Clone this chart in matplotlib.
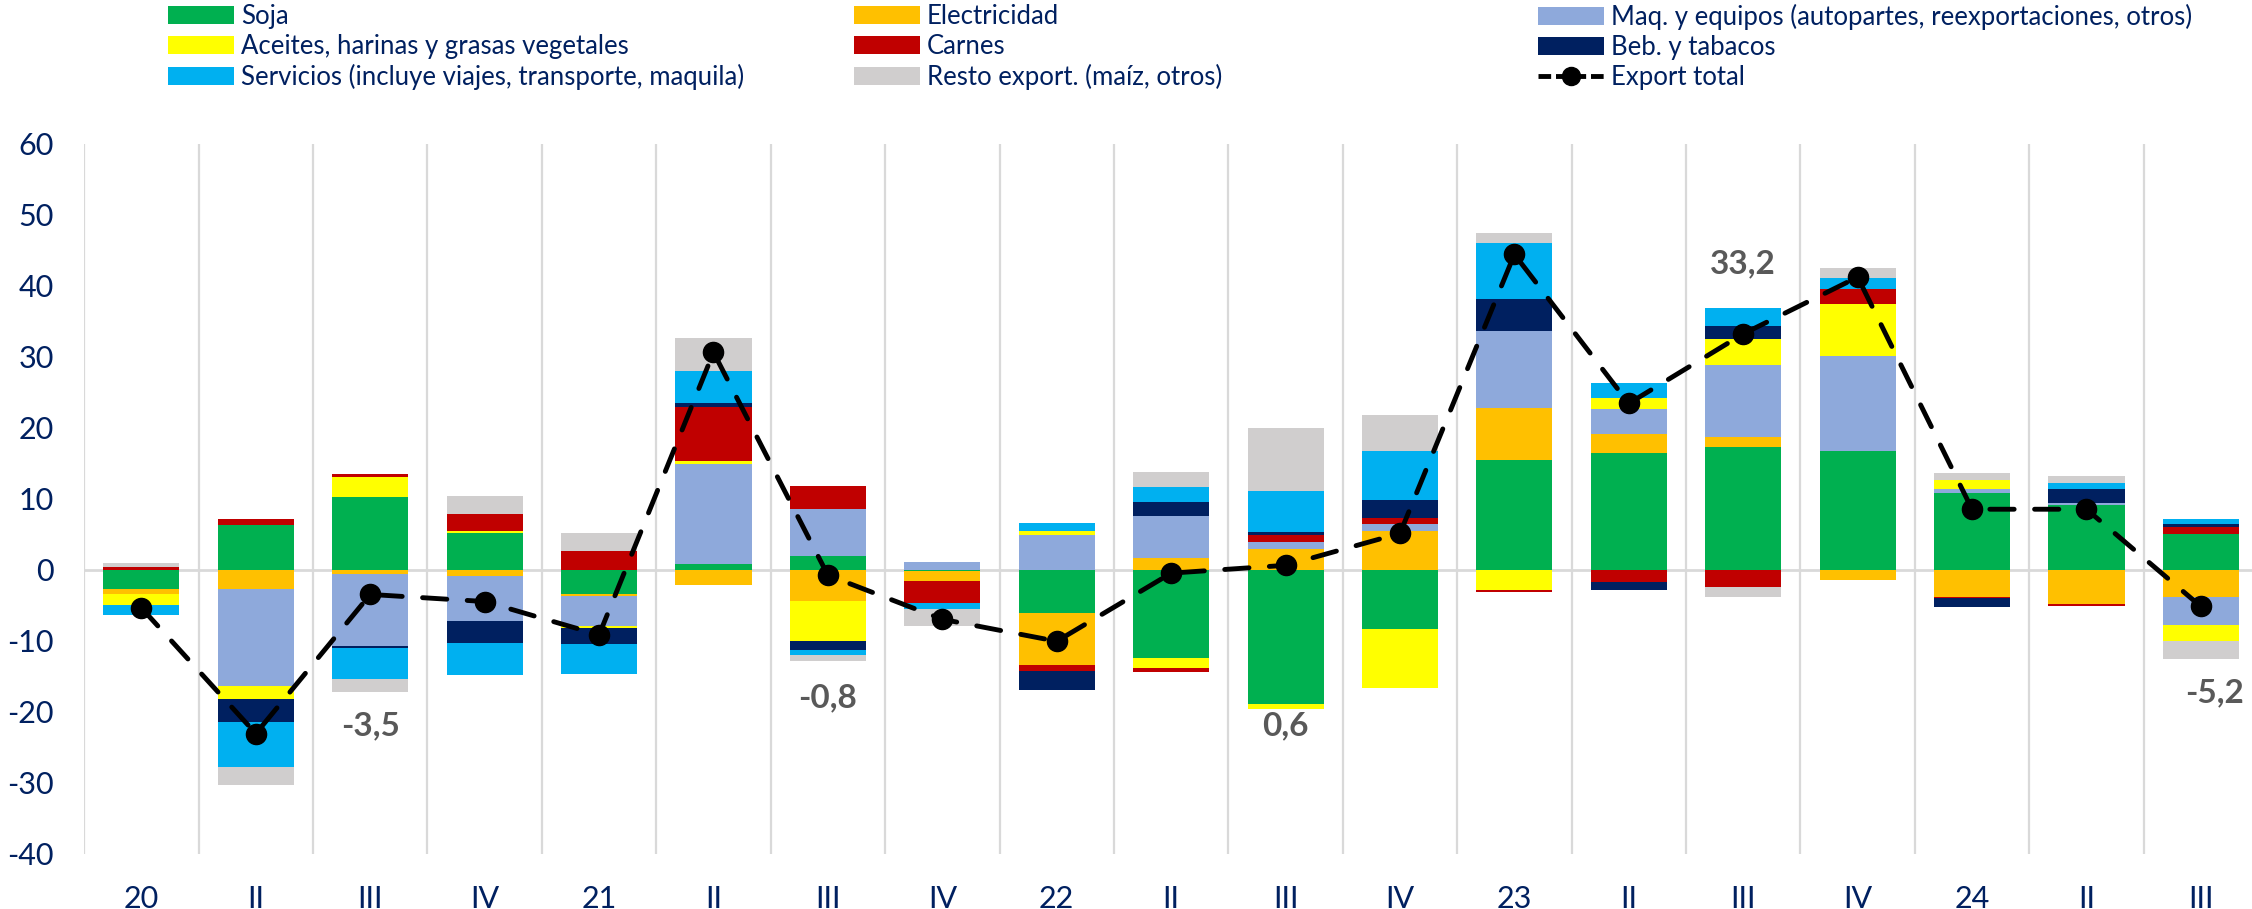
import matplotlib.pyplot as plt
import numpy as np
from matplotlib.lines import Line2D
from matplotlib.patches import Patch

plt.rcParams['font.family'] = ['Lato', 'DejaVu Sans']
plt.rcParams['axes.unicode_minus'] = False

# Trimestres
trimestres = ['20', 'II', 'III', 'IV', '21', 'II', 'III', 'IV', '22', 'II', 'III', 'IV',
              '23', 'II', 'III', 'IV', '24', 'II', 'III']

# Contribuciones por rubro (p.p.)
soja = [-2.7, 6.3, 10.2, 5.2, -3.4, 0.85, 1.85, -0.15, -6.1, -12.5, -19.0, -8.35,
        15.4, 16.4, 17.3, 16.7, 10.8, 9.05, 4.95]
electricidad = [-0.7, -2.7, -0.6, -0.9, -0.3, -2.2, -4.4, -1.5, -7.3, 1.6, 2.9, 5.45,
                7.3, 2.75, 1.4, -1.5, -3.8, -4.9, -3.8]
maquinaria = [0.0, -13.7, -10.2, -6.4, -4.2, 14.0, 6.7, 1.0, 4.9, 6.0, 1.0, 1.0,
              10.9, 3.5, 10.1, 13.4, 0.5, 0.3, -4.0]
aceites = [-1.6, -1.9, 2.8, 0.3, -0.35, 0.4, -5.6, 0.0, 0.6, -1.3, -0.7, -8.4,
           -2.9, 1.5, 3.7, 7.3, 1.35, 0.0, -2.25]
carnes = [0.3, 0.85, 0.4, 2.3, 2.6, 7.7, 3.2, -3.1, -0.9, -0.6, 1.0, 0.8,
          -0.3, -1.8, -2.4, 2.1, -0.2, -0.2, 1.0]
bebidas = [0.0, -3.2, -0.3, -3.1, -2.2, 0.55, -1.3, 0.0, -2.7, 1.85, 0.45, 2.6,
           4.5, -1.1, 1.85, 0.0, -1.3, 2.05, 0.5]
servicios = [-1.4, -6.3, -4.3, -4.5, -4.2, 4.5, -0.8, -0.8, 1.05, 2.25, 5.65, 6.9,
             7.85, 2.2, 2.5, 1.55, 0.0, 0.85, 0.65]
resto = [0.65, -2.5, -1.9, 2.5, 2.6, 4.65, -0.8, -2.4, 0.0, 2.0, 9.0, 5.0,
         1.4, 0.0, -1.5, 1.5, 0.9, 1.0, -2.6]

# Variacion total de exportaciones
export_total = [-5.4, -23.1, -3.5, -4.5, -9.2, 30.6, -0.8, -7.0, -10.1, -0.5, 0.6, 5.1,
                44.4, 23.4, 33.2, 41.2, 8.5, 8.5, -5.2]

# Etiquetas destacadas: (indice, texto, altura)
etiquetas_idx = [2, 6, 10, 14, 18]
etiquetas_txt = ['-3,5', '-0,8', '0,6', '33,2', '-5,2']
etiquetas_y = [-22.0, -18.1, -22.0, 43.0, -17.3]
etiquetas_dx = [0.0, 0.0, 0.0, 0.0, 0.12]

series = [
    ('Soja', soja, '#00B050'),
    ('Electricidad', electricidad, '#FFC000'),
    ('Maq. y equipos (autopartes, reexportaciones, otros)', maquinaria, '#8EA9DB'),
    ('Aceites, harinas y grasas vegetales', aceites, '#FFFF00'),
    ('Carnes', carnes, '#C00000'),
    ('Beb. y tabacos', bebidas, '#002060'),
    ('Servicios (incluye viajes, transporte, maquila)', servicios, '#00B0F0'),
    ('Resto export. (maíz, otros)', resto, '#D0CECE'),
]

azul = '#002060'

fig = plt.figure(figsize=(22.52, 9.09), dpi=100)
ax = fig.add_axes([0.0374, 0.061, 0.9653, 0.781])

x = np.arange(len(trimestres))
pos_base = np.zeros(len(x))
neg_base = np.zeros(len(x))
for nombre, valores, color in series:
    v = np.array(valores)
    pos = np.where(v > 0, v, 0)
    neg = np.where(v < 0, v, 0)
    ax.bar(x, pos, bottom=pos_base, width=0.665, color=color, zorder=2)
    ax.bar(x, neg, bottom=neg_base, width=0.665, color=color, zorder=2)
    pos_base += pos
    neg_base += neg

ax.plot(x, export_total, color='black', linewidth=3.5, linestyle=(0, (5.0, 4.2)),
        dash_capstyle='round', marker='o', markersize=14.5, zorder=4)

for i, txt, yy, dx in zip(etiquetas_idx, etiquetas_txt, etiquetas_y, etiquetas_dx):
    ax.text(x[i] + dx, yy, txt, ha='center', va='center', fontsize=24, fontweight='bold',
            color='#595959', zorder=5)

# Lineas verticales entre trimestres y linea del cero
for k in range(len(x)):
    ax.plot([k - 0.5, k - 0.5], [-40, 60], color='#D9D9D9', linewidth=1.6, zorder=0)
ax.axhline(0, color='#D9D9D9', linewidth=2.0, zorder=1)

ax.set_xlim(-0.5, len(x) - 0.5)
ax.set_ylim(-40, 60)
ax.set_yticks(np.arange(-40, 61, 10))
ax.set_xticks(x)
ax.set_xticklabels(trimestres)
ax.tick_params(axis='both', length=0, labelsize=22, labelcolor=azul)
ax.tick_params(axis='x', pad=23)
ax.tick_params(axis='y', pad=22)
for s in ax.spines.values():
    s.set_visible(False)

# Leyenda en tres columnas
def handle(nombre):
    for n, _, c in series:
        if n == nombre:
            return Patch(facecolor=c, label=n)

columnas = [
    ['Soja', 'Aceites, harinas y grasas vegetales', 'Servicios (incluye viajes, transporte, maquila)'],
    ['Electricidad', 'Carnes', 'Resto export. (maíz, otros)'],
    ['Maq. y equipos (autopartes, reexportaciones, otros)', 'Beb. y tabacos', None],
]
x_cols = [168 / 2252, 854 / 2252, 1538 / 2252]
for xc, nombres in zip(x_cols, columnas):
    handles = []
    for n in nombres:
        if n is None:
            handles.append(Line2D([0], [0], color='black', linewidth=3.5,
                                  linestyle=(0, (2.6, 1.0)), marker='o', markersize=13,
                                  label='Export total'))
        else:
            handles.append(handle(n))
    leg = fig.legend(handles=handles, loc='upper left', bbox_to_anchor=(xc, 1 - 4 / 909),
                     frameon=False, fontsize=18.5, handlelength=2.55, handleheight=0.66,
                     handletextpad=0.28, labelspacing=0.19, borderpad=0, borderaxespad=0)
    for t in leg.get_texts():
        t.set_color(azul)

plt.savefig('out.png', dpi=100)
plt.close()
